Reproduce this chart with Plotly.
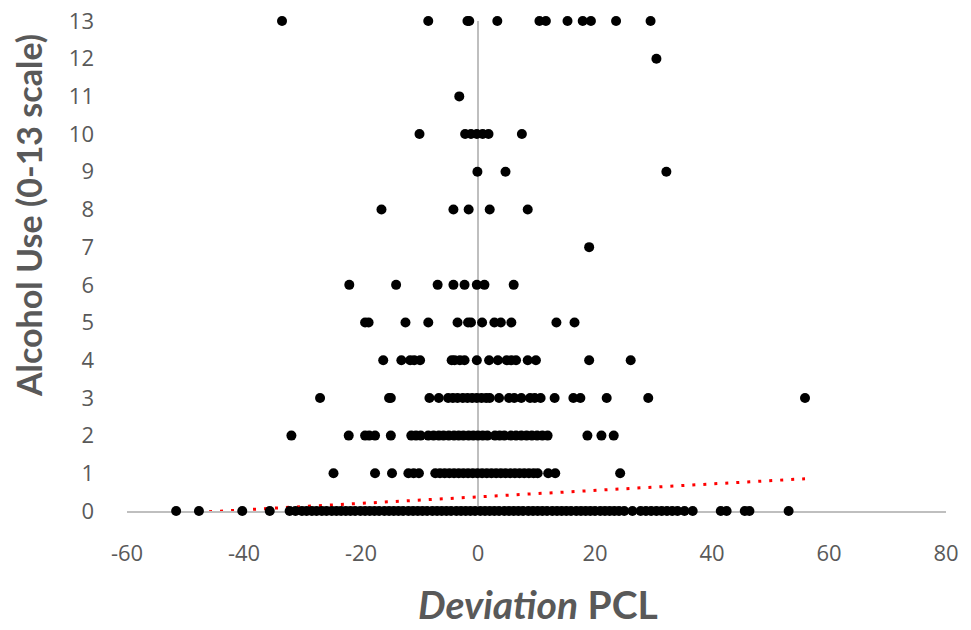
import plotly.graph_objects as go

# Deviation PCL values observed at each Alcohol Use level
dev_at_13 = [-33.5, -8.5, -1.8, -1.5, 3.3, 10.5, 11.6, 15.3, 17.9, 19.3, 23.6, 29.5]
dev_at_12 = [30.5]
dev_at_11 = [-3.2]
dev_at_10 = [-10.0, -2.2, -1.2, -0.2, 0.8, 1.8, 7.5]
dev_at_9 = [-0.1, 4.7, 32.2]
dev_at_8 = [-16.5, -4.2, -1.6, 2.0, 8.5]
dev_at_7 = [19.0]
dev_at_6 = [-22.0, -14.0, -6.9, -4.2, -2.3, -0.2, 1.1, 6.1]
dev_at_5 = [-19.3, -18.7, -12.4, -8.5, -3.5, -1.7, -1.2, 0.7, 2.8, 3.9, 5.7, 13.4, 16.5]
dev_at_4 = [-16.2, -13.1, -11.6, -10.9, -9.9, -4.5, -4.0, -3.1, -2.3, -0.2, 1.9, 3.4,
            4.9, 5.7, 6.5, 8.5, 9.9, 19.0, 26.1]
dev_at_3 = [-27.0, -15.2, -14.9, -8.3, -6.7, -5.1, -4.3, -3.5, -2.6, -1.8, -1.0, -0.2,
            0.6, 1.4, 2.0, 3.6, 5.3, 6.2, 7.4, 8.9, 9.7, 10.7, 13.1, 16.3, 17.5, 22.0,
            29.1, 55.9]
dev_at_2 = [-31.9, -22.1, -19.3, -18.6, -17.6, -14.9, -11.4, -10.6, -9.8, -8.5, -7.6,
            -6.7, -5.9, -5.0, -4.1, -3.3, -2.5, -1.6, -0.8, 0.0, 0.8, 1.6, 2.9, 3.7,
            4.5, 5.6, 6.5, 7.4, 8.3, 9.2, 10.1, 11.0, 11.9, 18.7, 21.1, 23.2]
dev_at_1 = [-24.7, -17.6, -14.7, -11.9, -11.0, -10.1, -7.3, -6.5, -5.7, -4.9, -4.1,
            -3.3, -2.5, -1.7, -0.9, -0.1, 0.7, 1.5, 2.3, 3.1, 3.9, 4.7, 5.5, 6.3, 7.1,
            7.9, 8.7, 9.5, 10.2, 12.0, 13.2, 24.3]
dev_at_0 = [-51.6, -47.7, -40.3, -35.6, -32.2, -31.2, -30.1, -29.3, -28.4, -27.6,
            -26.7, -25.9, -25.0, -24.2, -23.4, -22.6, -21.8, -21.0, -20.1, -19.3,
            -18.5, -17.7, -16.9, -16.0, -15.2, -14.4, -13.6, -12.8, -11.9, -11.1,
            -10.3, -9.5, -8.7, -7.8, -7.0, -6.2, -5.4, -4.6, -3.7, -2.9, -2.1, -1.3,
            -0.5, 0.4, 1.2, 2.0, 2.8, 3.6, 4.5, 5.3, 6.1, 6.9, 7.7, 8.6, 9.4, 10.2,
            11.0, 11.8, 12.7, 13.5, 14.3, 15.1, 15.9, 16.8, 17.6, 18.4, 19.2, 20.0,
            20.9, 21.7, 22.5, 23.3, 24.1, 25.0, 26.4, 27.8, 28.7, 29.6, 30.5, 31.4,
            32.3, 33.2, 34.1, 35.3, 36.7, 41.5, 42.5, 45.6, 46.4, 53.1]

rows = [dev_at_0, dev_at_1, dev_at_2, dev_at_3, dev_at_4, dev_at_5, dev_at_6,
        dev_at_7, dev_at_8, dev_at_9, dev_at_10, dev_at_11, dev_at_12, dev_at_13]

x_vals, y_vals = [], []
for level, devs in enumerate(rows):
    x_vals.extend(devs)
    y_vals.extend([level] * len(devs))

# Linear trendline
trend_slope = 0.0086
trend_intercept = 0.375
trend_x = [min(x_vals), max(x_vals)]
trend_y = [trend_intercept + trend_slope * v for v in trend_x]

x_ticks = [-60, -40, -20, 0, 20, 40, 60, 80]
y_ticks = list(range(0, 14))

GRAY = "#595959"
LINE = "#bfbfbf"
TICKFONT = "'Open Sans', Lato, sans-serif"
TITLEFONT = "Lato, 'Open Sans', sans-serif"

fig = go.Figure()
fig.add_trace(go.Scatter(
    x=trend_x, y=trend_y, mode="lines",
    line=dict(color="#ff0000", width=3, dash="3px,8px"),
    hoverinfo="skip", showlegend=False,
))
fig.add_trace(go.Scatter(
    x=x_vals, y=y_vals, mode="markers",
    marker=dict(color="black", size=10, line=dict(width=0)),
    cliponaxis=False, showlegend=False,
))

fig.update_layout(
    width=971, height=630,
    margin=dict(l=127, r=25, t=21, b=119, autoexpand=False),
    paper_bgcolor="white", plot_bgcolor="white",
    font=dict(family=TICKFONT, color=GRAY, size=18),
    xaxis=dict(
        range=[-60, 80], tickvals=x_ticks, ticktext=[str(t) for t in x_ticks],
        showgrid=False, zeroline=True, zerolinecolor=LINE, zerolinewidth=2,
        showline=True, linecolor=LINE, linewidth=2, ticks="",
        ticklabelstandoff=22, layer="below traces", automargin=False,
        tickfont=dict(size=22, color=GRAY, family=TICKFONT),
    ),
    yaxis=dict(
        range=[0, 13], tickvals=y_ticks, ticktext=[str(t) for t in y_ticks],
        showgrid=False, zeroline=False, showline=False, ticks="",
        ticklabelstandoff=32, layer="below traces", automargin=False,
        tickfont=dict(size=22, color=GRAY, family=TICKFONT),
    ),
    annotations=[
        dict(text="<b>Alcohol Use (0-13 scale)</b>", xref="paper", yref="paper",
             x=-0.1209, y=0.604, xanchor="center", yanchor="middle",
             textangle=-90, showarrow=False,
             font=dict(size=34, color=GRAY, family=TITLEFONT)),
        dict(text="<b><i>Deviation</i> PCL</b>", xref="paper", yref="paper",
             x=0.502, y=-0.2385, xanchor="center", yanchor="bottom",
             borderpad=0, showarrow=False,
             font=dict(size=39, color=GRAY, family=TITLEFONT)),
    ],
)

fig.write_html(
    "out.html",
    config={"displayModeBar": False},
    post_script="document.body.style.margin='0';document.body.style.padding='0';",
)
